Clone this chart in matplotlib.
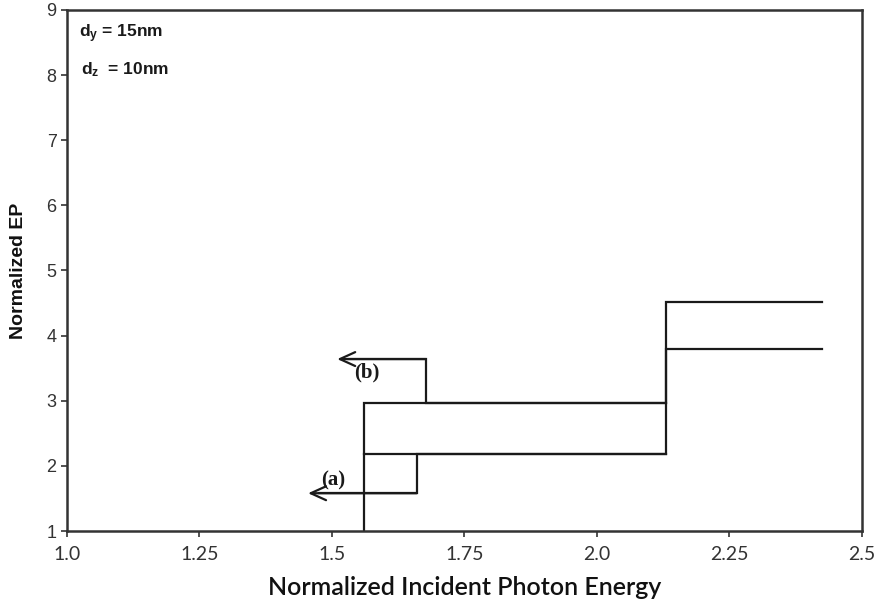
import matplotlib
matplotlib.use("Agg")
import matplotlib.pyplot as plt

plt.rcParams['mathtext.fontset'] = 'custom'
plt.rcParams['mathtext.bf'] = 'Liberation Sans:bold'
plt.rcParams['mathtext.rm'] = 'Liberation Sans:bold'
plt.rcParams['mathtext.default'] = 'bf'

# Curve (a) forward path and return path
a_fwd_x = [1.56, 1.56, 2.13, 2.13, 2.425]
a_fwd_y = [1.0, 2.18, 2.18, 3.80, 3.80]
a_ret_x = [2.13, 1.66, 1.66, 1.455]
a_ret_y = [2.18, 2.18, 1.58, 1.58]

# Curve (b) forward path and return path
b_fwd_x = [1.56, 1.56, 2.13, 2.13, 2.425]
b_fwd_y = [2.18, 2.97, 2.97, 4.52, 4.52]
b_ret_x = [2.13, 1.677, 1.677, 1.51]
b_ret_y = [2.97, 2.97, 3.64, 3.64]

xticks = [1.0, 1.25, 1.5, 1.75, 2.0, 2.25, 2.5]
xticklabels = ['1.0', '1.25', '1.5', '1.75', '2.0', '2.25', '2.5']
yticks = [1, 2, 3, 4, 5, 6, 7, 8, 9]

fig = plt.figure(figsize=(8.82, 6.05), dpi=100)
ax = fig.add_axes([0.076, 0.1223, 0.901, 0.8612])

lc = '#1a1a1a'
lw = 1.6
ax.plot(a_fwd_x, a_fwd_y, color=lc, lw=lw, solid_joinstyle='miter')
ax.plot(b_fwd_x, b_fwd_y, color=lc, lw=lw, solid_joinstyle='miter')
ax.plot(a_ret_x[:-1] + [a_ret_x[-1] + 0.02], a_ret_y, color=lc, lw=lw, solid_joinstyle='miter')
ax.plot(b_ret_x[:-1] + [b_ret_x[-1] + 0.02], b_ret_y, color=lc, lw=lw, solid_joinstyle='miter')

for xs, ys in [(a_ret_x, a_ret_y), (b_ret_x, b_ret_y)]:
    ax.annotate('', xy=(xs[-1], ys[-1]), xytext=(xs[-2], ys[-2]),
                arrowprops=dict(arrowstyle='->,head_length=1.1,head_width=0.5',
                                color=lc, lw=lw, shrinkA=0, shrinkB=0))

ax.text(1.502, 1.78, '(a)', fontsize=15, fontweight='bold', family='Liberation Serif',
        ha='center', va='center', color=lc)
ax.text(1.565, 3.44, '(b)', fontsize=15, fontweight='bold', family='Liberation Serif',
        ha='center', va='center', color=lc)

ax.text(0.015, 0.955, r'd$_{y}$ = 15nm', transform=ax.transAxes, fontsize=12.5,
        fontweight='bold', family='Liberation Sans', ha='left', va='center', color=lc)
ax.text(0.018, 0.885, r'd$_{z}$  = 10nm', transform=ax.transAxes, fontsize=12.5,
        fontweight='bold', family='Liberation Sans', ha='left', va='center', color=lc)

ax.set_xlim(1.0, 2.5)
ax.set_ylim(1, 9)
ax.set_xticks(xticks)
ax.set_xticklabels(xticklabels, fontsize=14, family='Lato', color='#333333')
ax.set_yticks(yticks)
ax.set_yticklabels([str(v) for v in yticks], fontsize=13, family='Liberation Sans', color='#333333')
ax.tick_params(axis='both', direction='out', length=4, width=1.2, color='#333333')
ax.tick_params(axis='x', pad=7)

for s in ax.spines.values():
    s.set_linewidth(1.8)
    s.set_color('#333333')

ax.set_xlabel('Normalized Incident Photon Energy', fontsize=18, family='Lato', fontweight='semibold',
              color='#111111', labelpad=9)
ax.set_ylabel('Normalized EP', fontsize=14, fontweight='bold', family='Liberation Sans',
              color='#111111', labelpad=14)

fig.savefig('out.png', dpi=100)
